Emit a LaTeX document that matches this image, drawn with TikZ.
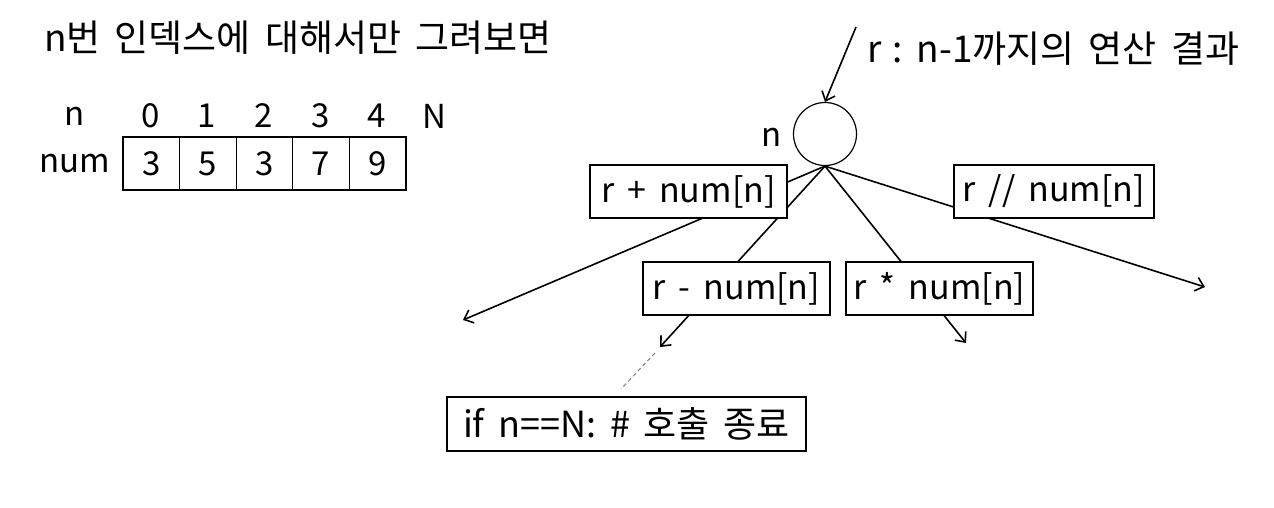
\documentclass[tikz,border=0pt]{standalone}
\usepackage{fontspec}
\setmainfont{Noto Sans CJK KR}[WordSpace=1.7]
\usetikzlibrary{arrows.meta}
\begin{document}
\begin{tikzpicture}[x=1pt,y=-1pt,
  every node/.style={font=\fontsize{33}{39}\selectfont, inner sep=0pt},
  big/.style={font=\fontsize{37}{44}\selectfont},
  opbox/.style={draw, line width=1.2pt, fill=white, minimum height=53pt, font=\fontsize{34}{40}\selectfont},
  cell/.style={draw, line width=1.2pt, minimum width=56.6pt, minimum height=53pt},
  conn/.style={line width=1.6pt},
  arr/.style={conn, -{Straight Barb[length=8pt,width=14pt,line width=1.6pt]}}]
\useasboundingbox (0,0) rectangle (1274,507);
% title
\node[anchor=west, big] (title) at (44,38) {n번 인덱스에 대해서만 그려보면};
% index row
\node (ln) at (75,116) {n};
\foreach \i/\x in {0/151,1/207,2/264,3/321,4/377}{
  \node (i\i) at (\x,116) {\i};
}
\node (iN) at (434,116) {N};
\node (lnum) at (74.5,163.5) {num};
\foreach \i/\v in {0/3,1/5,2/3,3/7,4/9}{
  \node[cell] (c\i) at (151.3+56.6*\i,163.5) {\v};
}
% tree
\node[draw, circle, line width=1.2pt, minimum size=63pt] (c) at (825,134) {};
\node (nl) at (772,137) {n};
\node[anchor=west, big] (rlab) at (867,49) {{\spaceskip=0.3em r : n-1}까지의 연산 결과};
\coordinate (src) at (856,27);
\coordinate (e1) at (463,320);
\coordinate (e2) at (660,347);
\coordinate (e3) at (966,343);
\coordinate (e4) at (1205,287);
\coordinate (d1) at (655,353);
\coordinate (d2) at (621,389);
\draw[arr] (src) -- (c.north);
\draw[arr] (c.south) -- (e1);
\draw[arr] (c.south) -- (e2);
\draw[arr] (c.south) -- (e3);
\draw[arr] (c.south) -- (e4);
\draw[gray, line width=1pt, dashed, dash pattern=on 4pt off 3pt] (d1) -- (d2);
\node[opbox, minimum width=197pt] (plus) at (688.5,191.5) {r + num[n]};
\node[opbox, minimum width=200pt] (div) at (1054,191.5) {r // num[n]};
\node[opbox, minimum width=187pt] (minus) at (736.5,288.5) {r - num[n]};
\node[opbox, minimum width=187pt] (times) at (939.5,288.5) {r * num[n]};
\node[opbox, minimum width=359pt, minimum height=54pt, font=\fontsize{36}{42}\selectfont] (ifb) at (626.5,424) {if n==N: \# 호출 종료};
\end{tikzpicture}
\end{document}
